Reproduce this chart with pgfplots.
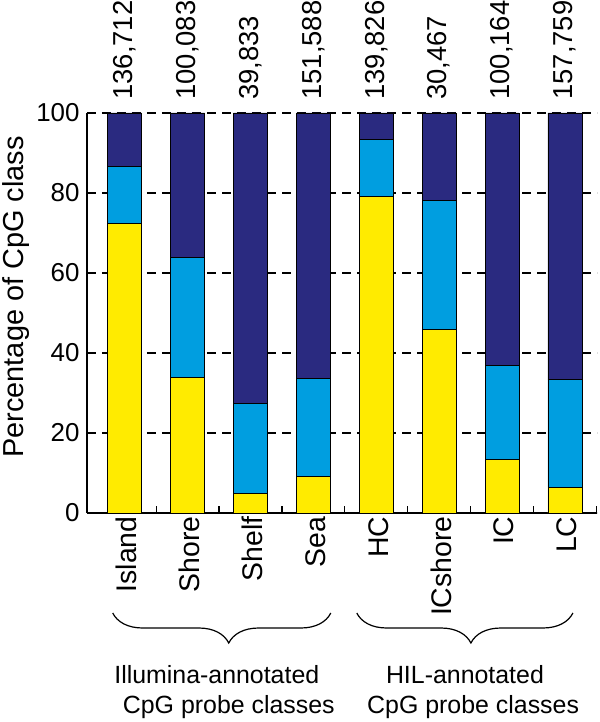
\documentclass[border=0pt]{standalone}
\usepackage{fontspec}
\setmainfont{Liberation Sans}
\usepackage{pgfplots}
\pgfplotsset{compat=1.18}
\usepackage{pgfplotstable}
\usetikzlibrary{decorations.pathreplacing}

\definecolor{cyel}{RGB}{255,235,0}
\definecolor{cblu}{RGB}{0,158,224}
\definecolor{cnav}{RGB}{42,42,128}

% x, yellow, light blue, navy (percent)
\pgfplotstableread{
x yel  blu  nav
1 72.3 14.3 13.4
2 34.0 29.9 36.1
3 4.8  22.5 72.7
4 9.1  24.5 66.4
5 79.2 14.2 6.6
6 46.0 32.2 21.8
7 13.5 23.4 63.1
8 6.5  26.8 66.7
}\cpg

\begin{document}
\begin{tikzpicture}[
    count/.style={font=\fontsize{27.5}{32}\selectfont, inner sep=0pt, anchor=west, rotate=90},
    grp/.style={anchor=base, font=\fontsize{25}{30}\selectfont},
]
\useasboundingbox (-87bp,-209bp) rectangle (513bp,513bp);
\begin{axis}[
    at={(0,0)}, anchor=south west,
    scale only axis,
    width=510bp, height=400bp,
    ybar stacked,
    bar width=0.54,
    xmin=0.4, xmax=8.51,
    ymin=0, ymax=100,
    enlargelimits=false,
    clip=false,
    axis x line*=bottom,
    axis y line*=left,
    axis line style={line width=1.3bp},
    xtick={1,...,8},
    xticklabels={Island,Shore,Shelf,Sea,HC,ICshore,IC,LC},
    minor xtick={1.5,2.5,...,8.5},
    ytick={0,20,...,100},
    major tick length=0pt,
    minor tick length=7bp,
    tick align=inside,
    tick style={black, line width=1.2bp},
    ymajorgrids,
    grid style={black, line width=1.3bp, dash pattern=on 9bp off 6bp},
    /pgf/number format/assume math mode=true,
    yticklabel style={font=\fontsize{26}{30}\selectfont, xshift=-4bp},
    xticklabel style={font=\fontsize{28.5}{32}\selectfont, rotate=90, anchor=east, yshift=-2bp},
    ylabel={Percentage of CpG class},
    ylabel style={font=\fontsize{29}{33}\selectfont, at={(axis description cs:-0.139,0.54)}, anchor=center},
]
\addplot[fill=cyel, draw=black, line width=0.8bp] table[x=x, y=yel] {\cpg};
\addplot[fill=cblu, draw=black, line width=0.8bp] table[x=x, y=blu] {\cpg};
\addplot[fill=cnav, draw=black, line width=0.8bp] table[x=x, y=nav] {\cpg};

% probe counts above the bars
\node[count] at (axis cs:1,103.3) {136,712};
\node[count] at (axis cs:2,103.3) {100,083};
\node[count] at (axis cs:3,103.3) {39,833};
\node[count] at (axis cs:4,103.3) {151,588};
\node[count] at (axis cs:5,103.3) {139,826};
\node[count] at (axis cs:6,103.3) {30,467};
\node[count] at (axis cs:7,103.3) {100,164};
\node[count] at (axis cs:8,103.3) {157,759};

\draw[decorate, decoration={brace, amplitude=30bp, aspect=0.468}, line width=1.2bp]
  (axis cs:4.277,-25) -- (axis cs:0.809,-25);
\draw[decorate, decoration={brace, amplitude=30bp, aspect=0.472}, line width=1.2bp]
  (axis cs:8.127,-25) -- (axis cs:4.69,-25);
\node[grp] at (axis cs:2.464,-42.5) {Illumina-annotated};
\node[grp] at (axis cs:2.655,-50) {CpG probe classes};
\node[grp] at (axis cs:6.41,-42.5) {HIL-annotated};
\node[grp] at (axis cs:6.54,-50) {CpG probe classes};
\end{axis}
\end{tikzpicture}
\end{document}
